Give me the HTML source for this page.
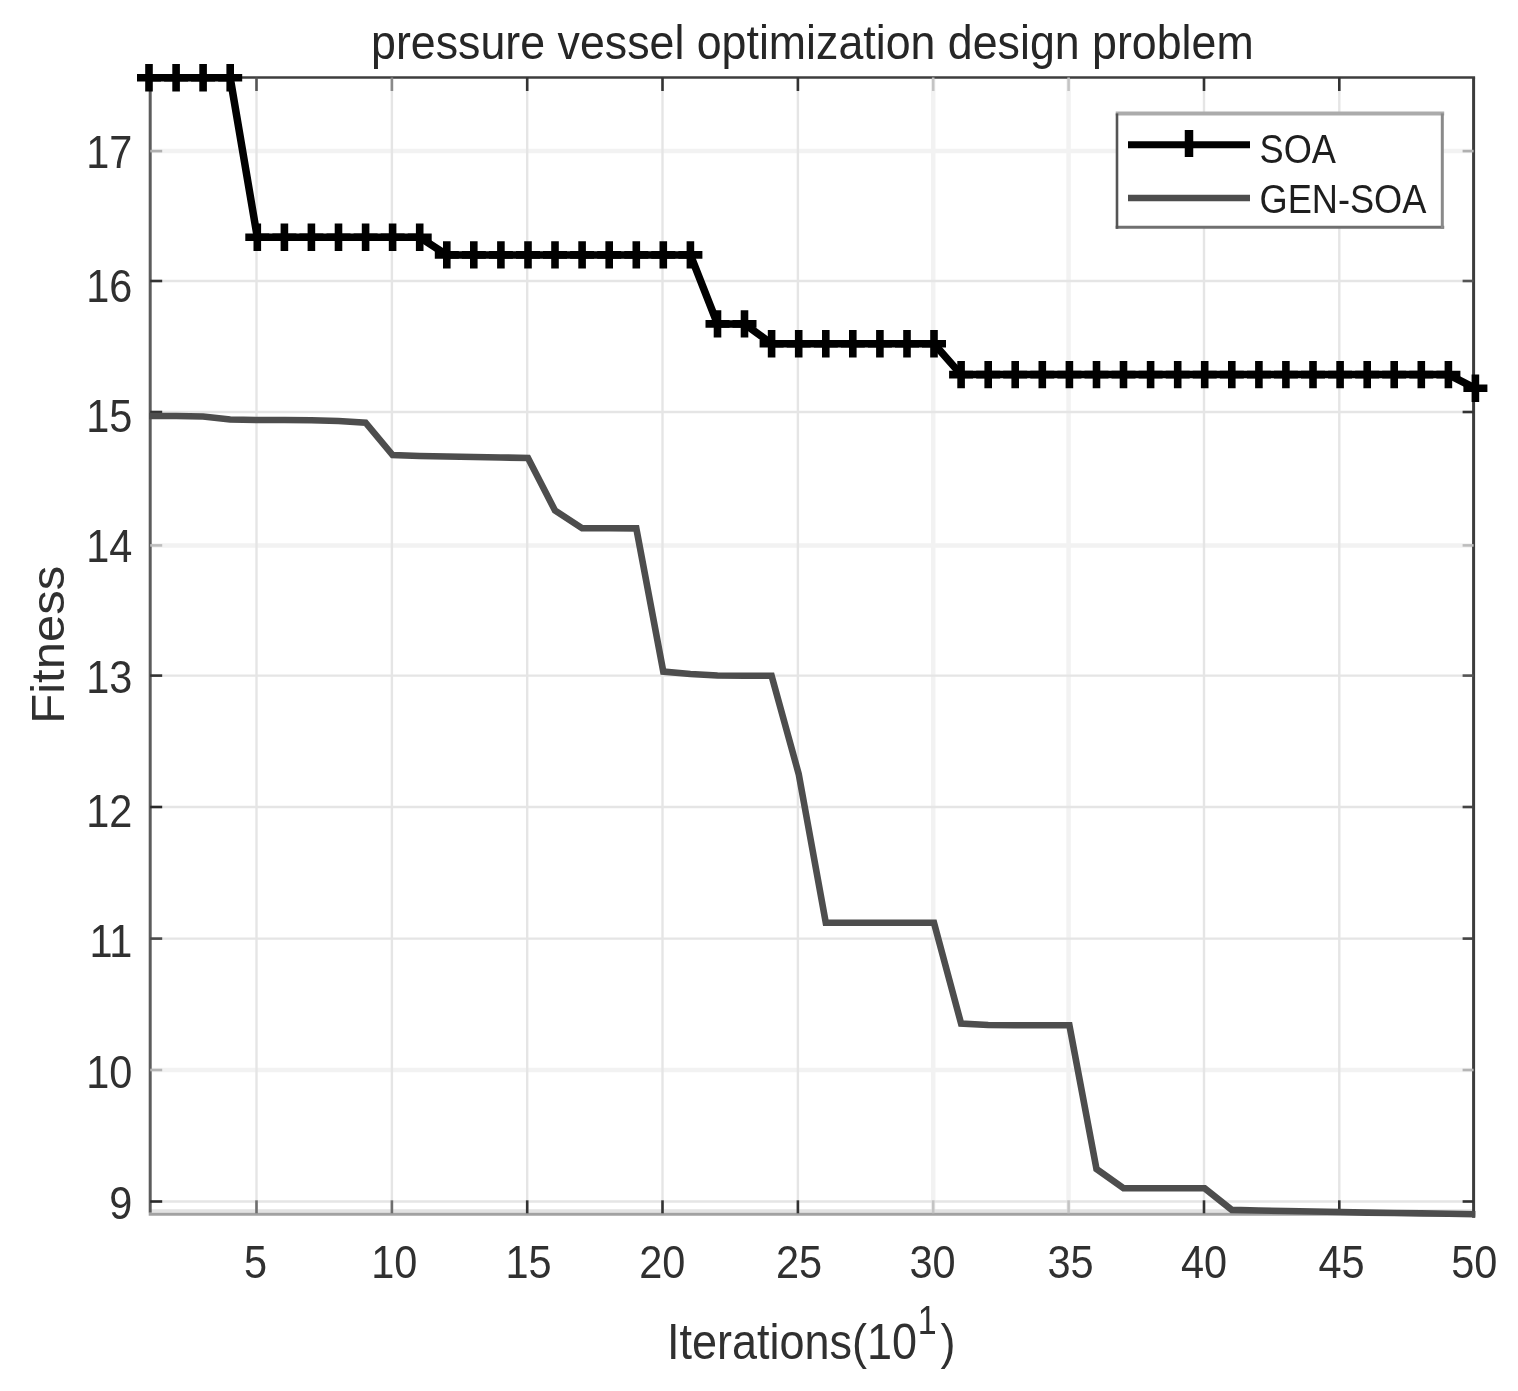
<!DOCTYPE html>
<html><head><meta charset="utf-8"><title>pressure vessel optimization design problem</title>
<style>html,body{margin:0;padding:0;background:#fff;}svg{display:block;}</style></head>
<body>
<svg width="1518" height="1391" viewBox="0 0 1518 1391">
<rect width="1518" height="1391" fill="#ffffff"/>
<g id="plot">
<g stroke="#f2f2f2" stroke-width="4.5"><line x1="933.2" y1="77.5" x2="933.2" y2="1214.3"/><line x1="1068.6" y1="77.5" x2="1068.6" y2="1214.3"/><line x1="150.2" y1="151.1" x2="1473.6" y2="151.1"/><line x1="150.2" y1="545.4" x2="1473.6" y2="545.4"/><line x1="150.2" y1="1070.0" x2="1473.6" y2="1070.0"/></g>
<g stroke="#e5e5e5" stroke-width="2.4"><line x1="256.5" y1="77.5" x2="256.5" y2="1214.3"/><line x1="391.9" y1="77.5" x2="391.9" y2="1214.3"/><line x1="527.2" y1="77.5" x2="527.2" y2="1214.3"/><line x1="662.5" y1="77.5" x2="662.5" y2="1214.3"/><line x1="797.9" y1="77.5" x2="797.9" y2="1214.3"/><line x1="1204.0" y1="77.5" x2="1204.0" y2="1214.3"/><line x1="1339.3" y1="77.5" x2="1339.3" y2="1214.3"/><line x1="150.2" y1="281.0" x2="1473.6" y2="281.0"/><line x1="150.2" y1="412.0" x2="1473.6" y2="412.0"/><line x1="150.2" y1="675.6" x2="1473.6" y2="675.6"/><line x1="150.2" y1="807.0" x2="1473.6" y2="807.0"/><line x1="150.2" y1="938.6" x2="1473.6" y2="938.6"/><line x1="150.2" y1="1201.5" x2="1473.6" y2="1201.5"/></g>
<line x1="149.2" y1="1211.0" x2="1473.6" y2="1211.0" stroke="#e2e2e2" stroke-width="3.5"/>
<line x1="150.2" y1="77.5" x2="150.2" y2="1212.8" stroke="#5c5c5c" stroke-width="3"/>
<line x1="148.7" y1="1214.3" x2="1475.1" y2="1214.3" stroke="#a2a2a2" stroke-width="3"/>
<line x1="148.7" y1="77.5" x2="1475.1" y2="77.5" stroke="#3e3e3e" stroke-width="2.6"/>
<line x1="1473.6" y1="77.5" x2="1473.6" y2="1217.8" stroke="#3c3c3c" stroke-width="3"/>
<g stroke-width="2.6"><line x1="256.5" y1="1213.3" x2="256.5" y2="1200.3" stroke="#6e6e6e"/><line x1="256.5" y1="77.5" x2="256.5" y2="91.0" stroke="#555"/><line x1="391.9" y1="1213.3" x2="391.9" y2="1200.3" stroke="#6e6e6e"/><line x1="391.9" y1="77.5" x2="391.9" y2="91.0" stroke="#8a8a8a"/><line x1="527.2" y1="1213.3" x2="527.2" y2="1200.3" stroke="#333"/><line x1="527.2" y1="77.5" x2="527.2" y2="91.0" stroke="#333"/><line x1="662.5" y1="1213.3" x2="662.5" y2="1200.3" stroke="#333"/><line x1="662.5" y1="77.5" x2="662.5" y2="91.0" stroke="#333"/><line x1="797.9" y1="1213.3" x2="797.9" y2="1200.3" stroke="#333"/><line x1="797.9" y1="77.5" x2="797.9" y2="91.0" stroke="#333"/><line x1="933.2" y1="1213.3" x2="933.2" y2="1200.3" stroke="#c4c4c4"/><line x1="933.2" y1="77.5" x2="933.2" y2="91.0" stroke="#c4c4c4"/><line x1="1068.6" y1="1213.3" x2="1068.6" y2="1200.3" stroke="#c4c4c4"/><line x1="1068.6" y1="77.5" x2="1068.6" y2="91.0" stroke="#c4c4c4"/><line x1="1204.0" y1="1213.3" x2="1204.0" y2="1200.3" stroke="#333"/><line x1="1204.0" y1="77.5" x2="1204.0" y2="91.0" stroke="#333"/><line x1="1339.3" y1="1213.3" x2="1339.3" y2="1200.3" stroke="#333"/><line x1="1339.3" y1="77.5" x2="1339.3" y2="91.0" stroke="#333"/><line x1="150.2" y1="151.1" x2="162.2" y2="151.1" stroke="#b0b0b0"/><line x1="1473.6" y1="151.1" x2="1462.6" y2="151.1" stroke="#b0b0b0"/><line x1="150.2" y1="281.0" x2="162.2" y2="281.0" stroke="#333"/><line x1="1473.6" y1="281.0" x2="1462.6" y2="281.0" stroke="#555"/><line x1="150.2" y1="412.0" x2="162.2" y2="412.0" stroke="#333"/><line x1="1473.6" y1="412.0" x2="1462.6" y2="412.0" stroke="#333"/><line x1="150.2" y1="545.4" x2="162.2" y2="545.4" stroke="#bdbdbd"/><line x1="1473.6" y1="545.4" x2="1462.6" y2="545.4" stroke="#bdbdbd"/><line x1="150.2" y1="675.6" x2="162.2" y2="675.6" stroke="#333"/><line x1="1473.6" y1="675.6" x2="1462.6" y2="675.6" stroke="#555"/><line x1="150.2" y1="807.0" x2="162.2" y2="807.0" stroke="#2a2a2a"/><line x1="1473.6" y1="807.0" x2="1462.6" y2="807.0" stroke="#444"/><line x1="150.2" y1="938.6" x2="162.2" y2="938.6" stroke="#4a4a4a"/><line x1="1473.6" y1="938.6" x2="1462.6" y2="938.6" stroke="#444"/><line x1="150.2" y1="1070.0" x2="162.2" y2="1070.0" stroke="#b5b5b5"/><line x1="1473.6" y1="1070.0" x2="1462.6" y2="1070.0" stroke="#b5b5b5"/><line x1="150.2" y1="1201.5" x2="162.2" y2="1201.5" stroke="#2a2a2a"/><line x1="1473.6" y1="1201.5" x2="1462.6" y2="1201.5" stroke="#333"/></g>
<polyline points="149.0,416.0 176.1,416.0 203.1,416.5 230.2,419.5 257.3,420.0 284.4,420.0 311.4,420.3 338.5,421.0 365.6,422.6 392.6,455.0 419.7,456.0 446.8,456.5 473.8,457.0 500.9,457.5 528.0,458.0 555.0,510.5 582.1,528.2 609.2,528.3 636.3,528.4 663.3,671.6 690.4,674.0 717.5,675.5 744.5,675.7 771.6,675.8 798.7,774.0 825.8,922.8 852.8,922.8 879.9,922.8 907.0,922.8 934.0,922.8 961.1,1023.6 988.2,1025.0 1015.2,1025.2 1042.3,1025.3 1069.4,1025.3 1096.5,1169.0 1123.5,1188.3 1150.6,1188.3 1177.7,1188.3 1204.7,1188.3 1231.8,1209.9 1258.9,1210.5 1285.9,1211.0 1313.0,1211.5 1340.1,1212.0 1367.2,1212.6 1394.2,1213.0 1421.3,1213.4 1448.4,1213.8 1475.4,1214.2" fill="none" stroke="#4d4d4d" stroke-width="6.6" stroke-linejoin="miter"/>
<polyline points="149.0,77.8 176.1,77.8 203.1,77.8 230.2,77.8 257.3,237.3 284.4,237.3 311.4,237.3 338.5,237.3 365.6,237.3 392.6,237.3 419.7,237.3 446.8,254.9 473.8,254.9 500.9,254.9 528.0,254.9 555.0,254.9 582.1,254.9 609.2,254.9 636.3,254.9 663.3,254.9 690.4,254.9 717.5,323.9 744.5,323.9 771.6,343.7 798.7,343.7 825.8,343.7 852.8,343.7 879.9,343.7 907.0,343.7 934.0,343.7 961.1,374.6 988.2,374.6 1015.2,374.6 1042.3,374.6 1069.4,374.6 1096.5,374.6 1123.5,374.6 1150.6,374.6 1177.7,374.6 1204.7,374.6 1231.8,374.6 1258.9,374.6 1285.9,374.6 1313.0,374.6 1340.1,374.6 1367.2,374.6 1394.2,374.6 1421.3,374.6 1448.4,374.6 1475.4,388.3" fill="none" stroke="#000" stroke-width="7.5" stroke-linejoin="miter"/>
<path d="M137.0,77.8H161.0M149.0,64.1V91.5M164.1,77.8H188.1M176.1,64.1V91.5M191.1,77.8H215.1M203.1,64.1V91.5M218.2,77.8H242.2M230.2,64.1V91.5M245.3,237.3H269.3M257.3,223.6V251.0M272.4,237.3H296.4M284.4,223.6V251.0M299.4,237.3H323.4M311.4,223.6V251.0M326.5,237.3H350.5M338.5,223.6V251.0M353.6,237.3H377.6M365.6,223.6V251.0M380.6,237.3H404.6M392.6,223.6V251.0M407.7,237.3H431.7M419.7,223.6V251.0M434.8,254.9H458.8M446.8,241.2V268.6M461.8,254.9H485.8M473.8,241.2V268.6M488.9,254.9H512.9M500.9,241.2V268.6M516.0,254.9H540.0M528.0,241.2V268.6M543.0,254.9H567.0M555.0,241.2V268.6M570.1,254.9H594.1M582.1,241.2V268.6M597.2,254.9H621.2M609.2,241.2V268.6M624.3,254.9H648.3M636.3,241.2V268.6M651.3,254.9H675.3M663.3,241.2V268.6M678.4,254.9H702.4M690.4,241.2V268.6M705.5,323.9H729.5M717.5,310.2V337.6M732.5,323.9H756.5M744.5,310.2V337.6M759.6,343.7H783.6M771.6,330.0V357.4M786.7,343.7H810.7M798.7,330.0V357.4M813.8,343.7H837.8M825.8,330.0V357.4M840.8,343.7H864.8M852.8,330.0V357.4M867.9,343.7H891.9M879.9,330.0V357.4M895.0,343.7H919.0M907.0,330.0V357.4M922.0,343.7H946.0M934.0,330.0V357.4M949.1,374.6H973.1M961.1,360.9V388.3M976.2,374.6H1000.2M988.2,360.9V388.3M1003.2,374.6H1027.2M1015.2,360.9V388.3M1030.3,374.6H1054.3M1042.3,360.9V388.3M1057.4,374.6H1081.4M1069.4,360.9V388.3M1084.5,374.6H1108.5M1096.5,360.9V388.3M1111.5,374.6H1135.5M1123.5,360.9V388.3M1138.6,374.6H1162.6M1150.6,360.9V388.3M1165.7,374.6H1189.7M1177.7,360.9V388.3M1192.7,374.6H1216.7M1204.7,360.9V388.3M1219.8,374.6H1243.8M1231.8,360.9V388.3M1246.9,374.6H1270.9M1258.9,360.9V388.3M1273.9,374.6H1297.9M1285.9,360.9V388.3M1301.0,374.6H1325.0M1313.0,360.9V388.3M1328.1,374.6H1352.1M1340.1,360.9V388.3M1355.2,374.6H1379.2M1367.2,360.9V388.3M1382.2,374.6H1406.2M1394.2,360.9V388.3M1409.3,374.6H1433.3M1421.3,360.9V388.3M1436.4,374.6H1460.4M1448.4,360.9V388.3M1463.4,388.3H1487.4M1475.4,374.6V402.0" fill="none" stroke="#000" stroke-width="7.6"/>
</g>
<g font-family="Liberation Sans, Arial, sans-serif">
<text transform="translate(132.4,167.5) scale(0.905,1)" font-size="45.8" text-anchor="end" fill="#303030" >17</text>
<text transform="translate(132.4,302.0) scale(0.905,1)" font-size="45.8" text-anchor="end" fill="#303030" >16</text>
<text transform="translate(132.4,432.2) scale(0.905,1)" font-size="45.8" text-anchor="end" fill="#303030" >15</text>
<text transform="translate(132.4,562.0) scale(0.905,1)" font-size="45.8" text-anchor="end" fill="#303030" >14</text>
<text transform="translate(132.4,693.2) scale(0.905,1)" font-size="45.8" text-anchor="end" fill="#303030" >13</text>
<text transform="translate(132.4,826.5) scale(0.905,1)" font-size="45.8" text-anchor="end" fill="#303030" >12</text>
<text transform="translate(132.4,956.8) scale(0.905,1)" font-size="45.8" text-anchor="end" fill="#303030" >11</text>
<text transform="translate(132.4,1087.8) scale(0.905,1)" font-size="45.8" text-anchor="end" fill="#303030" >10</text>
<text transform="translate(132.4,1219.4) scale(0.905,1)" font-size="45.8" text-anchor="end" fill="#303030" >9</text>
<text transform="translate(255.4,1278.3) scale(0.905,1)" font-size="45.8" text-anchor="middle" fill="#303030" >5</text>
<text transform="translate(394.2,1278.3) scale(0.905,1)" font-size="45.8" text-anchor="middle" fill="#303030" >10</text>
<text transform="translate(528.5,1278.3) scale(0.905,1)" font-size="45.8" text-anchor="middle" fill="#303030" >15</text>
<text transform="translate(662.3,1278.3) scale(0.905,1)" font-size="45.8" text-anchor="middle" fill="#303030" >20</text>
<text transform="translate(799.0,1278.3) scale(0.905,1)" font-size="45.8" text-anchor="middle" fill="#303030" >25</text>
<text transform="translate(932.6,1278.3) scale(0.905,1)" font-size="45.8" text-anchor="middle" fill="#303030" >30</text>
<text transform="translate(1070.6,1278.3) scale(0.905,1)" font-size="45.8" text-anchor="middle" fill="#303030" >35</text>
<text transform="translate(1204.0,1278.3) scale(0.905,1)" font-size="45.8" text-anchor="middle" fill="#303030" >40</text>
<text transform="translate(1341.6,1278.3) scale(0.905,1)" font-size="45.8" text-anchor="middle" fill="#303030" >45</text>
<text transform="translate(1474.2,1278.3) scale(0.905,1)" font-size="45.8" text-anchor="middle" fill="#303030" >50</text>
<text transform="translate(371.1,58.5) scale(0.913,1)" font-size="49" text-anchor="start" fill="#262626" >pressure vessel optimization design problem</text>
<text transform="translate(667.0,1358.5) scale(0.905,1)" font-size="49.7" text-anchor="start" fill="#303030" >Iterations(10</text>
<text transform="translate(917.7,1333.5) scale(0.85,1)" font-size="40" text-anchor="start" fill="#303030" >1</text>
<text transform="translate(940.5,1358.5) scale(0.905,1)" font-size="49.7" text-anchor="start" fill="#303030" >)</text>
<text transform="translate(63.9,723.8) rotate(-90) scale(1,0.94)" font-size="49.1" fill="#303030">Fitness</text>
</g>
<rect x="1117" y="113.4" width="325.70000000000005" height="113.79999999999998" fill="#fff"/>
<line x1="1115.7" y1="113.4" x2="1444.2" y2="113.4" stroke="#ababab" stroke-width="4"/>
<line x1="1115.7" y1="227.3" x2="1444.2" y2="227.3" stroke="#707070" stroke-width="3"/>
<line x1="1117" y1="113.4" x2="1117" y2="228.8" stroke="#555" stroke-width="2.6"/>
<line x1="1442.3" y1="113.4" x2="1442.3" y2="228.8" stroke="#8a8a8a" stroke-width="3"/>
<line x1="1128" y1="144.8" x2="1250" y2="144.8" stroke="#000" stroke-width="7"/>
<line x1="1189" y1="130" x2="1189" y2="157" stroke="#000" stroke-width="8.5"/>
<line x1="1128" y1="198" x2="1250" y2="198" stroke="#4d4d4d" stroke-width="6.5"/>
<g font-family="Liberation Sans, Arial, sans-serif">
<text transform="translate(1259.5,162.8) scale(0.905,1)" font-size="40" text-anchor="start" fill="#1e1e1e" >SOA</text>
<text transform="translate(1259.5,213.4) scale(0.905,1)" font-size="40" text-anchor="start" fill="#1e1e1e" >GEN-SOA</text>
</g>
</svg>
</body></html>
